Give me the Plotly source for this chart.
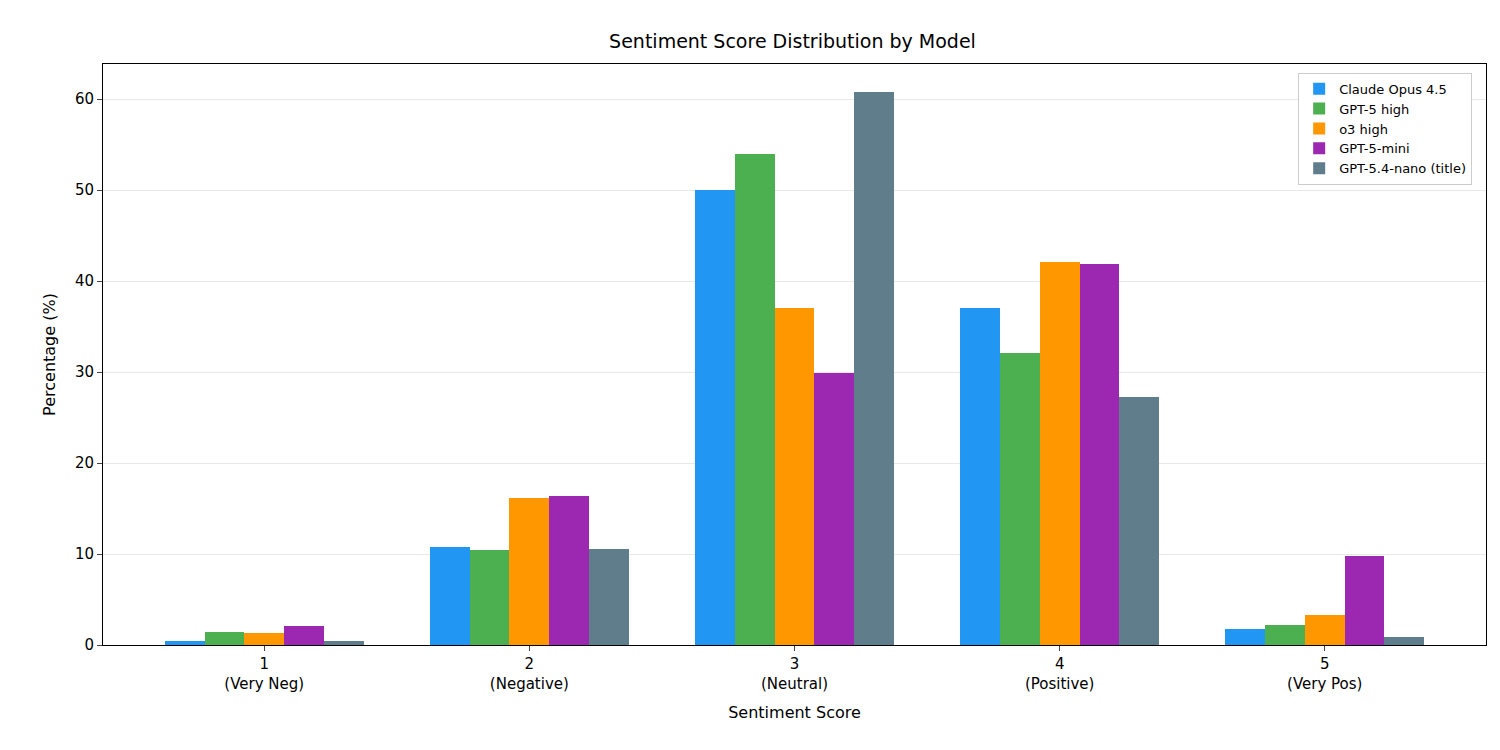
import plotly.graph_objects as go

scores = [1, 2, 3, 4, 5]
tick_labels = ["1<br>(Very Neg)", "2<br>(Negative)", "3<br>(Neutral)", "4<br>(Positive)", "5<br>(Very Pos)"]

models = ["Claude Opus 4.5", "GPT-5 high", "o3 high", "GPT-5-mini", "GPT-5.4-nano (title)"]
claude = [0.4, 10.8, 50.0, 37.0, 1.8]
gpt5 = [1.4, 10.4, 54.0, 32.1, 2.2]
o3 = [1.3, 16.2, 37.0, 42.1, 3.3]
mini = [2.1, 16.4, 29.9, 41.9, 9.8]
nano = [0.4, 10.5, 60.8, 27.3, 0.9]
series = [claude, gpt5, o3, mini, nano]
colors = ["#2196F3", "#4CAF50", "#FF9800", "#9C27B0", "#607D8B"]

fig = go.Figure()
w = 0.15
for i, (name, vals, c) in enumerate(zip(models, series, colors)):
    fig.add_trace(go.Bar(
        x=[s + (i - 2) * w for s in scores], y=vals, name=name,
        width=w, marker=dict(color=c, line=dict(width=0))))

fig.update_layout(
    width=1500, height=750,
    margin=dict(l=95, r=22, t=56, b=113),
    paper_bgcolor="white", plot_bgcolor="white",
    font=dict(family="DejaVu Sans", size=15, color="black"),
    title=dict(text="Sentiment Score Distribution by Model", x=0.523, xanchor="center",
               y=0.955, yanchor="middle", font=dict(size=19)),
    showlegend=True,
    legend=dict(x=0.99, y=0.985, xanchor="right", yanchor="top",
                bgcolor="white", bordercolor="#cccccc", borderwidth=1,
                font=dict(size=13)),
    bargap=0,
)
fig.update_xaxes(range=[0.392, 5.608], tickvals=scores, ticktext=tick_labels,
                 showline=True, linecolor="black", mirror=True, ticks="outside",
                 ticklen=5, showgrid=False, zeroline=False,
                 title=dict(text="Sentiment Score", font=dict(size=16)))
fig.update_yaxes(range=[0, 63.85], tickvals=[0, 10, 20, 30, 40, 50, 60],
                 showline=True, linecolor="black", mirror=True, ticks="outside",
                 ticklen=5, showgrid=True, gridcolor="#e8e8e8", zeroline=False,
                 title=dict(text="Percentage (%)", font=dict(size=16)))

fig.write_html("out.html")
